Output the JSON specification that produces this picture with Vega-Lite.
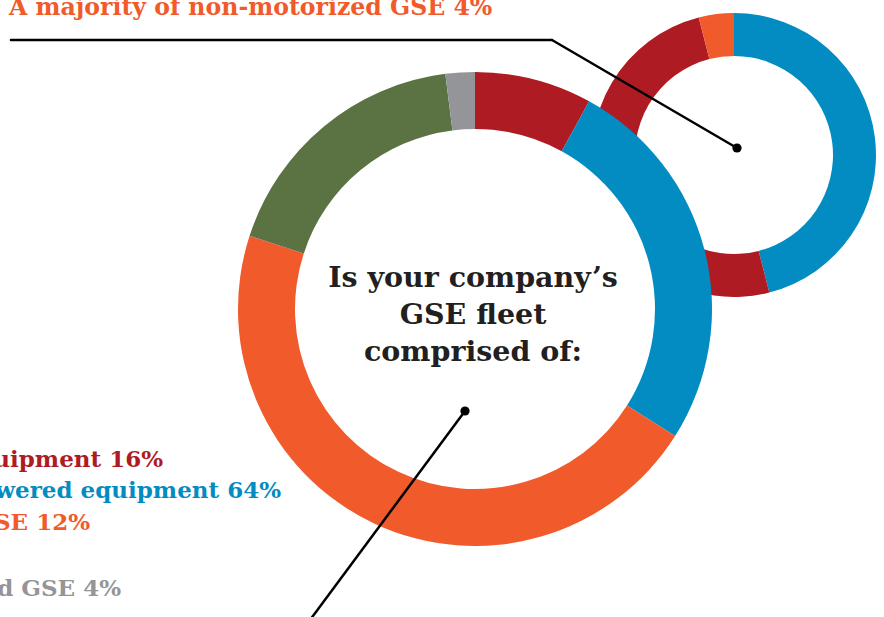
{
  "$schema": "https://vega.github.io/schema/vega-lite/v6.json",
  "width": 884,
  "height": 617,
  "padding": 0,
  "autosize": {"type": "none"},
  "background": "white",
  "config": {"view": {"stroke": null}},
  "datasets": {
    "fleet": [
      {"category": "Gas/diesel equipment", "idx": 1, "pct": 8},
      {"category": "Electric-powered equipment", "idx": 2, "pct": 26},
      {"category": "Alternative fuel GSE", "idx": 3, "pct": 46},
      {"category": "Mixed fleet", "idx": 4, "pct": 18},
      {"category": "Non-motorized GSE", "idx": 5, "pct": 2}
    ],
    "majority": [
      {"category": "Electric-powered equipment", "idx": 1, "pct": 46},
      {"category": "Gas/diesel equipment", "idx": 2, "pct": 50},
      {"category": "Alternative fuel GSE", "idx": 3, "pct": 4}
    ]
  },
  "layer": [
    {
      "data": {"name": "majority"},
      "mark": {"type": "arc", "radius": 142, "radius2": 99},
      "encoding": {
        "x": {"datum": 734, "type": "quantitative", "scale": {"domain": [0, 884], "range": [0, 884], "nice": false, "zero": false}, "axis": null},
        "y": {"datum": 155, "type": "quantitative", "scale": {"domain": [0, 617], "range": [0, 617], "nice": false, "zero": false}, "axis": null},
        "theta": {"field": "pct", "type": "quantitative", "stack": true, "scale": {"domain": [0, 100], "nice": false}},
        "order": {"field": "idx", "type": "quantitative"},
        "color": {
          "field": "category", "type": "nominal", "legend": null,
          "scale": {
            "domain": ["Gas/diesel equipment", "Electric-powered equipment", "Alternative fuel GSE", "Mixed fleet", "Non-motorized GSE"],
            "range": ["#AE1B22", "#028CC2", "#F15A2B", "#5B7343", "#939598"]
          }
        }
      }
    },
    {
      "data": {"values": [{}]},
      "mark": {"type": "arc", "radius": 181, "radius2": 0, "theta": 0, "theta2": 6.2832, "fill": "white", "stroke": null},
      "encoding": {
        "x": {"datum": 475, "type": "quantitative"},
        "y": {"datum": 309, "type": "quantitative"}
      }
    },
    {
      "data": {"name": "fleet"},
      "mark": {"type": "arc", "radius": 237, "radius2": 180},
      "encoding": {
        "x": {"datum": 475, "type": "quantitative"},
        "y": {"datum": 309, "type": "quantitative"},
        "theta": {"field": "pct", "type": "quantitative", "stack": true},
        "order": {"field": "idx", "type": "quantitative"},
        "color": {"field": "category", "type": "nominal", "legend": null}
      }
    },
    {
      "data": {"values": [{}]},
      "mark": {"type": "rule", "stroke": "black", "strokeWidth": 2.5, "strokeCap": "round"},
      "encoding": {
        "x": {"datum": 11, "type": "quantitative"},
        "y": {"datum": 40, "type": "quantitative"},
        "x2": {"datum": 552},
        "y2": {"datum": 40}
      }
    },
    {
      "data": {"values": [{}]},
      "mark": {"type": "rule", "stroke": "black", "strokeWidth": 2.5, "strokeCap": "round"},
      "encoding": {
        "x": {"datum": 552, "type": "quantitative"},
        "y": {"datum": 40, "type": "quantitative"},
        "x2": {"datum": 737},
        "y2": {"datum": 148}
      }
    },
    {
      "data": {"values": [{}]},
      "mark": {"type": "rule", "stroke": "black", "strokeWidth": 2.5},
      "encoding": {
        "x": {"datum": 465, "type": "quantitative"},
        "y": {"datum": 411, "type": "quantitative"},
        "x2": {"datum": 310},
        "y2": {"datum": 620}
      }
    },
    {
      "data": {"values": [{}]},
      "mark": {"type": "point", "filled": true, "color": "black", "opacity": 1, "size": 85},
      "encoding": {
        "x": {"datum": 737, "type": "quantitative"},
        "y": {"datum": 148, "type": "quantitative"}
      }
    },
    {
      "data": {"values": [{}]},
      "mark": {"type": "point", "filled": true, "color": "black", "opacity": 1, "size": 85},
      "encoding": {
        "x": {"datum": 465, "type": "quantitative"},
        "y": {"datum": 411, "type": "quantitative"}
      }
    },
    {
      "data": {"values": [{"q": ["Is your company’s", "GSE fleet", "comprised of:"]}]},
      "mark": {"type": "text", "font": "DejaVu Serif", "fontWeight": "bold", "fontSize": 28.5, "lineHeight": 37, "align": "center", "baseline": "alphabetic", "color": "#231F20"},
      "encoding": {
        "x": {"datum": 473, "type": "quantitative"},
        "y": {"datum": 287, "type": "quantitative"},
        "text": {"field": "q"}
      }
    },
    {
      "data": {"values": [{"t": "A majority of non-motorized GSE 4%"}]},
      "mark": {"type": "text", "font": "DejaVu Serif", "fontWeight": "bold", "fontSize": 23.6, "align": "left", "baseline": "alphabetic", "color": "#F15A2B"},
      "encoding": {
        "x": {"datum": 9, "type": "quantitative"},
        "y": {"datum": 15, "type": "quantitative"},
        "text": {"field": "t"}
      }
    },
    {
      "data": {"values": [{"t": "A majority of gas/diesel-powered equipment 16%"}]},
      "mark": {"type": "text", "font": "DejaVu Serif", "fontWeight": "bold", "fontSize": 23, "align": "right", "baseline": "alphabetic", "color": "#AE1B22"},
      "encoding": {
        "x": {"datum": 163, "type": "quantitative"},
        "y": {"datum": 467, "type": "quantitative"},
        "text": {"field": "t"}
      }
    },
    {
      "data": {"values": [{"t": "A majority of electric-powered equipment 64%"}]},
      "mark": {"type": "text", "font": "DejaVu Serif", "fontWeight": "bold", "fontSize": 23, "align": "right", "baseline": "alphabetic", "color": "#028CC2"},
      "encoding": {
        "x": {"datum": 281, "type": "quantitative"},
        "y": {"datum": 498, "type": "quantitative"},
        "text": {"field": "t"}
      }
    },
    {
      "data": {"values": [{"t": "A majority of alternative fuel GSE 12%"}]},
      "mark": {"type": "text", "font": "DejaVu Serif", "fontWeight": "bold", "fontSize": 23, "align": "right", "baseline": "alphabetic", "color": "#F15A2B"},
      "encoding": {
        "x": {"datum": 90, "type": "quantitative"},
        "y": {"datum": 530, "type": "quantitative"},
        "text": {"field": "t"}
      }
    },
    {
      "data": {"values": [{"t": "A mix of powered and non-motorized GSE 4%"}]},
      "mark": {"type": "text", "font": "DejaVu Serif", "fontWeight": "bold", "fontSize": 23, "align": "right", "baseline": "alphabetic", "color": "#939598"},
      "encoding": {
        "x": {"datum": 121, "type": "quantitative"},
        "y": {"datum": 596, "type": "quantitative"},
        "text": {"field": "t"}
      }
    }
  ]
}
